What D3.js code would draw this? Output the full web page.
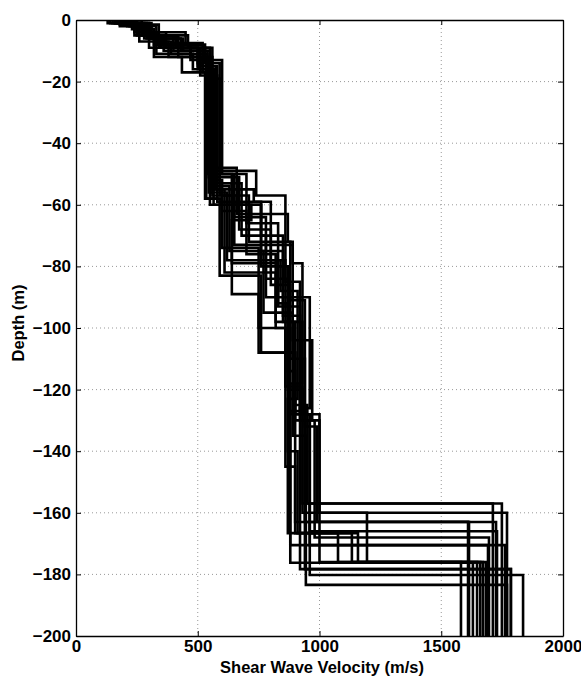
<!DOCTYPE html>
<html>
<head>
<meta charset="utf-8">
<script src="https://cdn.jsdelivr.net/npm/d3@7"></script>
<style>
  body { margin: 0; background: #fff; }
  text { font-family: "Liberation Sans", Arial, sans-serif; font-weight: bold; }
</style>
</head>
<body>
<svg id="chart" width="581" height="678"></svg>
<script>
// layer velocities (m/s) for each profile, last one is the half-space
var velocities = [
    [140, 260, 330, 470, 540, 640, 760, 870, 930, 1712],
    [200, 240, 350, 500, 560, 600, 700, 820, 900, 950, 1749],
    [170, 280, 400, 520, 550, 660, 870, 890, 970, 1000, 1770],
    [230, 300, 430, 540, 570, 730, 800, 880, 940, 1614],
    [150, 240, 320, 435, 530, 590, 760, 900, 960, 1729],
    [250, 330, 380, 510, 580, 760, 850, 920, 980, 1696],
    [190, 270, 460, 550, 600, 700, 830, 870, 910, 1133, 1683],
    [210, 290, 360, 520, 560, 650, 890, 930, 880, 1762],
    [180, 250, 410, 500, 545, 620, 840, 910, 870, 1076, 1660],
    [270, 320, 470, 560, 590, 680, 780, 960, 920, 1786],
    [160, 300, 370, 530, 550, 720, 640, 750, 860, 900, 1158, 1647],
    [220, 260, 390, 480, 570, 630, 770, 890, 944, 1770],
    [200, 310, 440, 550, 580, 740, 860, 920, 1000, 1671],
    [130, 230, 300, 510, 535, 600, 750, 900, 960, 1836],
    [250, 340, 420, 520, 560, 610, 820, 880, 940, 1786],
    [180, 280, 360, 470, 545, 670, 800, 860, 930, 1195, 1581],
    [200, 300, 340, 560, 590, 710, 880, 940, 990, 1610],
    [160, 260, 450, 530, 555, 650, 780, 870, 900, 1725],
    [240, 310, 400, 500, 565, 760, 850, 930, 960, 1692],
    [170, 290, 330, 540, 575, 640, 830, 920, 880, 1630]
];
// bottom depth (m) of each layer, matching the velocities above
var depths = [
    [1, 4, 8, 13, 50, 60, 80, 120, 157, 200],
    [1.5, 5, 9, 14, 52, 62, 76, 98, 125, 157, 200],
    [1, 5, 7.5, 15, 48, 63, 72, 104, 130, 160, 200],
    [2, 6, 10, 17, 55, 59, 86, 110, 163, 200],
    [1, 4, 12, 17, 58, 83, 108, 128, 166, 200],
    [2, 7, 12, 18, 59, 75, 96, 130, 168, 200],
    [1, 5, 9, 13, 50, 66, 92, 140, 166.6, 176, 200],
    [2, 6, 10, 16, 57, 73, 79, 118, 170.5, 200],
    [1.5, 5, 9, 15, 56, 78, 88, 123, 166.6, 176, 200],
    [3, 8, 12, 19, 53, 70, 90, 126, 178.3, 200],
    [1, 4, 9, 14, 60, 65, 89, 100, 145, 166.6, 176, 200],
    [2, 7, 11, 16, 54, 75, 95, 135, 183.4, 200],
    [1, 6, 10, 15, 49, 57, 85, 128, 176, 200],
    [1, 3, 9, 13, 58, 74, 108, 130, 180.2, 200],
    [1.5, 5, 12, 17, 55, 82, 100, 128, 178.3, 200],
    [2, 6, 8, 12, 51, 68, 78, 119, 160, 176, 200],
    [1, 5, 9, 14, 57, 72, 91, 132, 162.9, 200],
    [1, 4, 8, 13, 50, 64, 84, 114, 163, 200],
    [2, 6, 10, 16, 60, 70, 98, 128, 170.5, 200],
    [1, 4, 11, 15, 53, 79, 93, 127, 176.2, 200]
];
var xTicks = [0, 500, 1000, 1500, 2000];
var yTicks = [0, -20, -40, -60, -80, -100, -120, -140, -160, -180, -200];

var svg = d3.select("#chart");
var mLeft = 76, mRight = 563, mTop = 20, mBottom = 636;

var xScale = d3.scaleLinear().domain([0, 2000]).range([mLeft, mRight]);
var yScale = d3.scaleLinear().domain([-200, 0]).range([mBottom, mTop]);

// grid
svg.append("g").selectAll("line").data(xTicks.slice(1, -1)).enter().append("line")
    .attr("x1", function (d) { return xScale(d); }).attr("x2", function (d) { return xScale(d); })
    .attr("y1", mTop).attr("y2", mBottom)
    .attr("stroke", "#999").attr("stroke-width", 1).attr("stroke-dasharray", "1,3");
svg.append("g").selectAll("line").data(yTicks.slice(1, -1)).enter().append("line")
    .attr("y1", function (d) { return yScale(d); }).attr("y2", function (d) { return yScale(d); })
    .attr("x1", mLeft).attr("x2", mRight)
    .attr("stroke", "#999").attr("stroke-width", 1).attr("stroke-dasharray", "1,3");

svg.append("clipPath").attr("id", "clip").append("rect")
    .attr("x", mLeft).attr("y", mTop).attr("width", mRight - mLeft).attr("height", mBottom - mTop);

// profiles as staircases
var line = d3.line().x(function (p) { return xScale(p[0]); }).y(function (p) { return yScale(-p[1]); });
var pts = velocities.map(function (vs, k) {
    var out = [], prev = 0;
    vs.forEach(function (v, i) {
        out.push([v, prev]);
        out.push([v, depths[k][i]]);
        prev = depths[k][i];
    });
    return out;
});
svg.append("g").attr("clip-path", "url(#clip)").selectAll("path").data(pts).enter().append("path")
    .attr("d", line).attr("fill", "none").attr("stroke", "#000").attr("stroke-width", 2.6)
    .attr("stroke-linejoin", "miter");

// axes (MATLAB-like, inward ticks)
var xAxis = d3.axisBottom(xScale).tickValues(xTicks).tickFormat(d3.format("d"))
    .tickSizeInner(-5).tickSizeOuter(0).tickPadding(4);
var yAxis = d3.axisLeft(yScale).tickValues(yTicks).tickSizeInner(-5).tickSizeOuter(0).tickPadding(5);
var gx = svg.append("g").attr("transform", "translate(0," + mBottom + ")").call(xAxis);
var gy = svg.append("g").attr("transform", "translate(" + mLeft + ",0)").call(yAxis);
svg.append("g").attr("transform", "translate(0," + mTop + ")")
    .call(d3.axisTop(xScale).tickValues(xTicks).tickSizeInner(-5).tickSizeOuter(0).tickFormat(""));
svg.append("g").attr("transform", "translate(" + mRight + ",0)")
    .call(d3.axisRight(yScale).tickValues(yTicks).tickSizeInner(-5).tickSizeOuter(0).tickFormat(""));
svg.selectAll(".domain").attr("stroke", "#000").attr("stroke-width", 1.3);
svg.selectAll(".tick line").attr("stroke", "#000");
gx.selectAll("text").attr("font-size", 17).attr("fill", "#000").style("font-weight", "bold");
gy.selectAll("text").attr("font-size", 17).attr("fill", "#000").style("font-weight", "bold")
    .text(function (d) { return d < 0 ? "\u2212" + Math.abs(d) : d; });

svg.append("text").attr("x", 322).attr("y", 673).attr("text-anchor", "middle")
    .attr("font-size", 16.5).text("Shear Wave Velocity (m/s)");
svg.append("text").attr("transform", "translate(24,323) rotate(-90)").attr("text-anchor", "middle")
    .attr("font-size", 16.5).text("Depth (m)");
</script>
</body>
</html>
